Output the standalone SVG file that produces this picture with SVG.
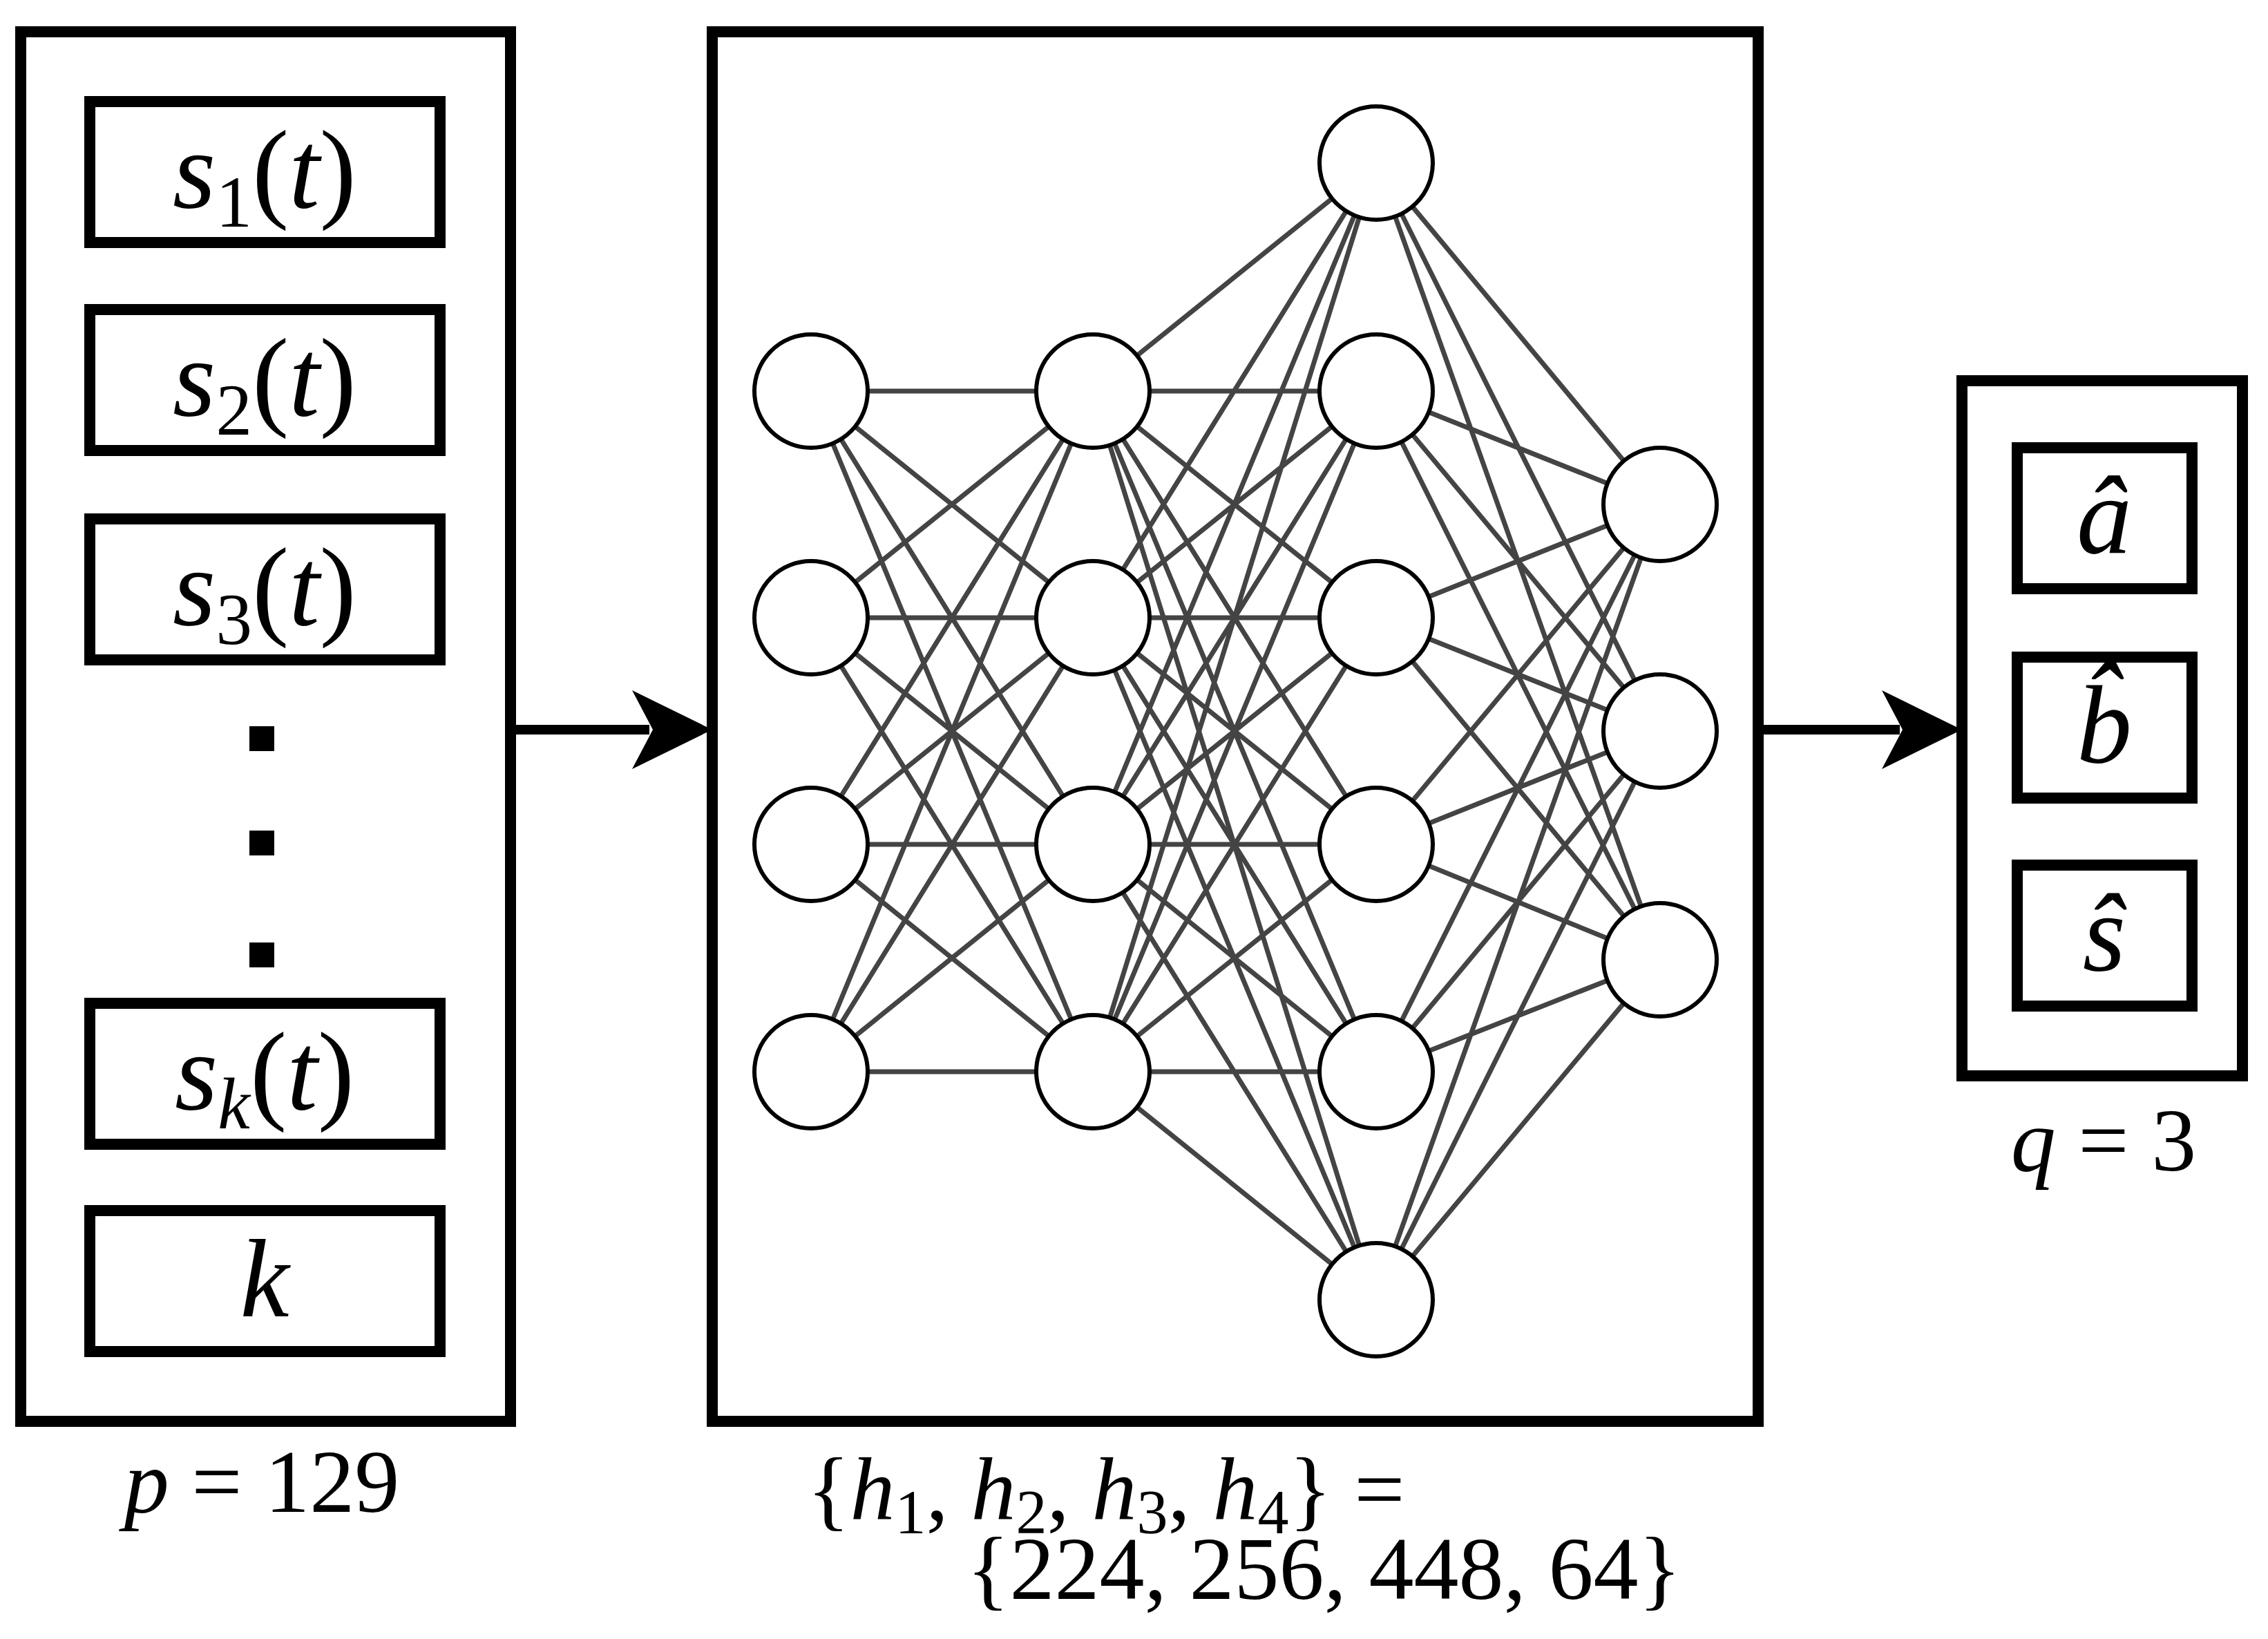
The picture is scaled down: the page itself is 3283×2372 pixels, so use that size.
<svg xmlns="http://www.w3.org/2000/svg" width="3283" height="2372" viewBox="0 0 3283 2372">
<style>
.box{fill:#fff;stroke:#000;stroke-width:16}
.ib{fill:#fff;stroke:#000;stroke-width:16}
.n{fill:#fff;stroke:#000;stroke-width:6}
.e{fill:none;stroke:#444;stroke-width:7}
.t{font-family:"Liberation Serif",serif;font-style:italic;font-size:160px;text-anchor:middle}
.u{font-family:"Liberation Serif",serif;font-size:130px}
</style>
<rect width="3283" height="2372" fill="#fff"/>
<g id="input-panel">
<rect class="box" x="30" y="46" width="709" height="2011"/>
<g id="s1"><rect class="ib" x="130" y="147" width="507" height="204"/><text class="t" x="383" y="300">s<tspan font-size="105" font-style="normal" dy="28">1</tspan><tspan dy="-28" font-style="normal">(</tspan>t<tspan font-style="normal">)</tspan></text></g>
<g id="s2"><rect class="ib" x="130" y="448" width="507" height="204"/><text class="t" x="383" y="601">s<tspan font-size="105" font-style="normal" dy="28">2</tspan><tspan dy="-28" font-style="normal">(</tspan>t<tspan font-style="normal">)</tspan></text></g>
<g id="s3"><rect class="ib" x="130" y="751" width="507" height="204"/><text class="t" x="383" y="904">s<tspan font-size="105" font-style="normal" dy="28">3</tspan><tspan dy="-28" font-style="normal">(</tspan>t<tspan font-style="normal">)</tspan></text></g>
<g id="dots"><rect x="361" y="1051" width="36" height="36"/><rect x="361" y="1202" width="36" height="36"/><rect x="361" y="1364" width="36" height="36"/></g>
<g id="sk"><rect class="ib" x="130" y="1452" width="507" height="204"/><text class="t" x="383" y="1605">s<tspan font-size="105" dy="28">k</tspan><tspan dy="-28" font-style="normal">(</tspan>t<tspan font-style="normal">)</tspan></text></g>
<g id="k"><rect class="ib" x="130" y="1752" width="507" height="204"/><text class="t" x="383" y="1905">k</text></g>
</g>
<g id="connectors">
<line x1="739" y1="1056" x2="940" y2="1056" stroke="#000" stroke-width="14"/>
<polygon points="915,999 1031,1056 915,1113 945,1056"/>
<line x1="2545" y1="1056" x2="2750" y2="1056" stroke="#000" stroke-width="14"/>
<polygon points="2724,999 2840,1056 2724,1113 2754,1056"/>
</g>
<g id="network">
<rect class="box" x="1031" y="46" width="1514" height="2011"/>
<g id="edges">
<path class="e" d="M1174 566L1582 566M1174 566L1582 894M1174 566L1582 1222M1174 566L1582 1551M1174 894L1582 566M1174 894L1582 894M1174 894L1582 1222M1174 894L1582 1551M1174 1222L1582 566M1174 1222L1582 894M1174 1222L1582 1222M1174 1222L1582 1551M1174 1551L1582 566M1174 1551L1582 894M1174 1551L1582 1222M1174 1551L1582 1551"/>
<path class="e" d="M1582 566L1992 236M1582 566L1992 566M1582 566L1992 894M1582 566L1992 1222M1582 566L1992 1551M1582 566L1992 1881M1582 894L1992 236M1582 894L1992 566M1582 894L1992 894M1582 894L1992 1222M1582 894L1992 1551M1582 894L1992 1881M1582 1222L1992 236M1582 1222L1992 566M1582 1222L1992 894M1582 1222L1992 1222M1582 1222L1992 1551M1582 1222L1992 1881M1582 1551L1992 236M1582 1551L1992 566M1582 1551L1992 894M1582 1551L1992 1222M1582 1551L1992 1551M1582 1551L1992 1881"/>
<path class="e" d="M1992 236L2403 730M1992 236L2403 1058M1992 236L2403 1389M1992 566L2403 730M1992 566L2403 1058M1992 566L2403 1389M1992 894L2403 730M1992 894L2403 1058M1992 894L2403 1389M1992 1222L2403 730M1992 1222L2403 1058M1992 1222L2403 1389M1992 1551L2403 730M1992 1551L2403 1058M1992 1551L2403 1389M1992 1881L2403 730M1992 1881L2403 1058M1992 1881L2403 1389"/>
</g>
<g id="layer1"><circle class="n" cx="1174" cy="566" r="82"/><circle class="n" cx="1174" cy="894" r="82"/><circle class="n" cx="1174" cy="1222" r="82"/><circle class="n" cx="1174" cy="1551" r="82"/></g>
<g id="layer2"><circle class="n" cx="1582" cy="566" r="82"/><circle class="n" cx="1582" cy="894" r="82"/><circle class="n" cx="1582" cy="1222" r="82"/><circle class="n" cx="1582" cy="1551" r="82"/></g>
<g id="layer3"><circle class="n" cx="1992" cy="236" r="82"/><circle class="n" cx="1992" cy="566" r="82"/><circle class="n" cx="1992" cy="894" r="82"/><circle class="n" cx="1992" cy="1222" r="82"/><circle class="n" cx="1992" cy="1551" r="82"/><circle class="n" cx="1992" cy="1881" r="82"/></g>
<g id="layer4"><circle class="n" cx="2403" cy="730" r="82"/><circle class="n" cx="2403" cy="1058" r="82"/><circle class="n" cx="2403" cy="1389" r="82"/></g>
</g>
<g id="output-panel">
<rect class="box" x="2840" y="551" width="406" height="1006"/>
<g id="a"><rect class="ib" x="2920" y="648" width="253" height="204"/><text class="t" x="3046" y="800">â</text></g>
<g id="b"><rect class="ib" x="2920" y="951" width="253" height="204"/><text class="t" x="3046" y="1103">b̂</text></g>
<g id="s"><rect class="ib" x="2920" y="1252" width="253" height="204"/><text class="t" x="3046" y="1404">ŝ</text></g>
</g>
<g id="labels">
<text class="u" x="379" y="2188" text-anchor="middle"><tspan font-style="italic">p</tspan> = 129</text>
<text class="u" x="1168" y="2199">{<tspan font-style="italic">h</tspan><tspan font-size="90" dy="20">1</tspan><tspan dy="-20">, </tspan><tspan font-style="italic">h</tspan><tspan font-size="90" dy="20">2</tspan><tspan dy="-20">, </tspan><tspan font-style="italic">h</tspan><tspan font-size="90" dy="20">3</tspan><tspan dy="-20">, </tspan><tspan font-style="italic">h</tspan><tspan font-size="90" dy="20">4</tspan><tspan dy="-20">} =</tspan></text>
<text class="u" x="1399" y="2314">{224, 256, 448, 64}</text>
<text class="u" x="3045" y="1694" text-anchor="middle"><tspan font-style="italic">q</tspan> = 3</text>
</g>
</svg>
